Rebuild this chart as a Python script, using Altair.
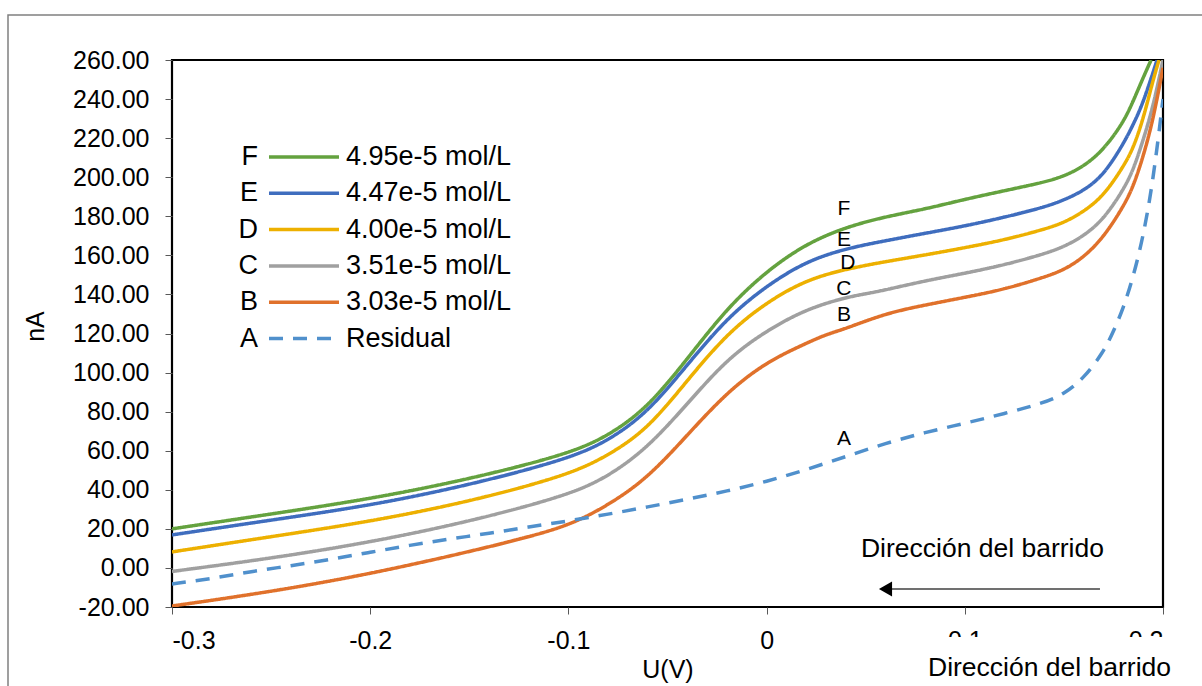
import altair as alt
import pandas as pd

FONT = "Liberation Sans"

# ---------------- data ----------------
SERIES = ["F", "E", "D", "C", "B", "A"]
LEGEND_LABELS = ["4.95e-5 mol/L", "4.47e-5 mol/L", "4.00e-5 mol/L",
                 "3.51e-5 mol/L", "3.03e-5 mol/L", "Residual"]
COLORS = ["#64A23F", "#3F6DBE", "#EDB000", "#A0A0A0", "#E0712B", "#5090CC"]
DASHES = [[1, 0], [1, 0], [1, 0], [1, 0], [1, 0], [14, 10]]

F_U = [-0.30, -0.25, -0.20, -0.15, -0.10, -0.08, -0.06, -0.04, -0.02, 0.00, 0.02, 0.04, 0.06,
       0.08, 0.10, 0.12, 0.14, 0.15, 0.16, 0.17, 0.18, 0.185, 0.19, 0.194]
F_I = [20.0, 27.6, 35.3, 45.4, 58.3, 67.5, 82.0, 107.0, 133.0, 152.0, 166.0, 174.5, 179.8,
       183.7, 188.7, 193.1, 197.4, 200.5, 205.5, 214.0, 228.0, 239.0, 251.0, 260.0]

E_U = [-0.30, -0.25, -0.20, -0.15, -0.10, -0.08, -0.06, -0.04, -0.02, 0.00, 0.02, 0.04, 0.06,
       0.08, 0.10, 0.12, 0.14, 0.15, 0.16, 0.17, 0.18, 0.185, 0.19, 0.197]
E_I = [16.9, 24.5, 31.9, 42.4, 55.8, 65.0, 79.5, 104.0, 128.0, 144.5, 157.0, 163.5, 167.5,
       171.3, 175.0, 179.5, 184.6, 188.3, 193.1, 201.0, 217.0, 227.0, 238.0, 260.0]

D_U = [-0.30, -0.25, -0.20, -0.15, -0.10, -0.08, -0.06, -0.04, -0.02, 0.00, 0.02, 0.04, 0.06,
       0.08, 0.10, 0.12, 0.14, 0.15, 0.16, 0.17, 0.18, 0.185, 0.19, 0.195, 0.198]
D_I = [8.2, 16.0, 23.7, 33.9, 47.5, 57.5, 71.0, 96.0, 120.0, 136.0, 147.5, 153.0, 156.8,
       160.2, 163.9, 167.9, 173.3, 176.7, 182.4, 190.4, 205.4, 214.8, 229.7, 249.8, 260.0]

C_U = [-0.30, -0.25, -0.20, -0.15, -0.10, -0.08, -0.06, -0.04, -0.02, 0.00, 0.02, 0.04, 0.05,
       0.06, 0.08, 0.10, 0.12, 0.14, 0.15, 0.16, 0.17, 0.18, 0.185, 0.19, 0.195, 0.20]
C_I = [-1.8, 4.9, 13.1, 23.7, 37.2, 46.7, 61.5, 84.0, 107.0, 121.5, 132.5, 138.5, 140.3,
       142.3, 147.0, 150.8, 155.1, 160.7, 164.4, 169.9, 178.4, 193.5, 203.7, 219.0, 236.0, 260.0]

B_U = [-0.30, -0.25, -0.20, -0.15, -0.125, -0.10, -0.08, -0.06, -0.04, -0.02, 0.00, 0.02, 0.03,
       0.04, 0.06, 0.08, 0.10, 0.12, 0.14, 0.15, 0.16, 0.17, 0.18, 0.185, 0.19, 0.195, 0.20]
B_I = [-19.5, -12.2, -3.1, 8.3, 14.6, 21.5, 32.0, 46.0, 68.0, 90.0, 105.5, 115.0, 119.5,
       122.5, 130.3, 134.6, 138.5, 142.6, 148.8, 152.5, 159.0, 169.2, 184.9, 195.2, 210.5,
       229.3, 256.0]

A_U = [-0.30, -0.28, -0.26, -0.24, -0.22, -0.20, -0.18, -0.16, -0.14, -0.12, -0.10, -0.08,
       -0.06, -0.04, -0.02, 0.00, 0.02, 0.04, 0.06, 0.08, 0.10, 0.12, 0.14, 0.15, 0.16, 0.17,
       0.175, 0.18, 0.185, 0.19, 0.195, 0.20]
A_I = [-8.2, -5.5, -1.8, 1.1, 4.4, 8.0, 11.6, 14.8, 17.7, 21.0, 24.0, 27.5, 31.2, 35.2,
       39.3, 44.2, 50.3, 57.0, 63.8, 69.4, 74.0, 79.0, 84.5, 89.0, 97.0, 110.5, 121.0, 133.0,
       149.0, 169.5, 198.0, 240.0]

CURVE_LABEL_U = [0.039, 0.039, 0.041, 0.039, 0.039, 0.039]
CURVE_LABEL_I = [183.7, 167.9, 156.1, 142.8, 129.5, 66.0]

X_TICKS = [-0.3, -0.2, -0.1, 0, 0.1, 0.2]
Y_TICKS = list(range(-20, 261, 20))
ANNOT_TEXT = "Dirección del barrido"
ARROW_U = [0.1682, 0.0600]
ARROW_I = -10.8

# ---------------- layout ----------------
W, H = 991, 547
PAD_L, PAD_T = 172, 60
FS = 25
FS_LEG = 27
FS_NOTE = 26.5

rows = []
for name, us, vals in zip(SERIES, [F_U, E_U, D_U, C_U, B_U, A_U],
                          [F_I, E_I, D_I, C_I, B_I, A_I]):
    for u, v in zip(us, vals):
        rows.append({"series": name, "U": u, "nA": v})
df = pd.DataFrame(rows)

xscale = alt.Scale(domain=[-0.3, 0.2], nice=False, zero=False)
yscale = alt.Scale(domain=[-20, 260], nice=False, zero=False)
color = alt.Color("series:N", scale=alt.Scale(domain=SERIES, range=COLORS), legend=None)
dash = alt.StrokeDash("series:N", scale=alt.Scale(domain=SERIES, range=DASHES), legend=None)

x_expr = ("datum.value == 0 ? '0' : (datum.value < 0 ? '-' + format(-datum.value, '.1f')"
          " : format(datum.value, '.1f'))")
y_expr = ("datum.value < 0 ? '-' + format(-datum.value, '.2f')"
          " : format(datum.value, '.2f')")

x_axis = alt.Axis(values=X_TICKS, labelExpr=x_expr, labelOverlap=False,
                  tickSize=7, tickColor="#595959", domain=False, grid=False,
                  labelFontSize=FS, labelColor="black", labelPadding=14,
                  title="U(V)", titleFontSize=FS, titleFontWeight="normal", titleColor="black",
                  titleX=W / 2, titleY=70, titleAlign="center", titleBaseline="alphabetic")
y_axis = alt.Axis(values=Y_TICKS, labelExpr=y_expr, labelOverlap=False, tickSize=7,
                  tickColor="#595959", domain=False,
                  grid=False, labelFontSize=FS, labelColor="black", labelPadding=16,
                  title="nA", titleFontSize=FS, titleFontWeight="normal", titleColor="black",
                  titleAngle=270, titleX=-137, titleY=266, titleAlign="center",
                  titleBaseline="middle")

X = alt.X("U:Q", scale=xscale, axis=x_axis)
Y = alt.Y("nA:Q", scale=yscale, axis=y_axis)

# outer frame (chart area border)
frame = alt.Chart(pd.DataFrame({"k": [0]})).mark_rect(
    fillOpacity=0, stroke="#808080", strokeWidth=1.5
).encode(x=alt.value(8 - PAD_L), x2=alt.value(1230 - PAD_L),
         y=alt.value(15 - PAD_T), y2=alt.value(720 - PAD_T))

lines = alt.Chart(df).mark_line(strokeWidth=3.5, interpolate="basis", clip=True).encode(
    x=X, y=Y, color=color, strokeDash=dash,
)

lab_df = pd.DataFrame({"series": SERIES, "U": CURVE_LABEL_U, "nA": CURVE_LABEL_I})
curve_labels = alt.Chart(lab_df).mark_text(fontSize=21, color="black", baseline="middle",
                                           align="center").encode(x=X, y=Y, text="series:N")

# arrow + annotation inside plot
arrow_df = pd.DataFrame({"U": [ARROW_U[0]], "U2": [ARROW_U[1]], "nA": [ARROW_I]})
arrow_line = alt.Chart(arrow_df).mark_rule(color="#404040", strokeWidth=1.6).encode(
    x=X, x2="U2:Q", y=Y)
head_df = pd.DataFrame({"U": [ARROW_U[1]], "nA": [ARROW_I]})
arrow_head = alt.Chart(head_df).mark_point(shape="triangle-left", filled=True, size=230,
                                           color="black", opacity=1).encode(x=X, y=Y)
annot_df = pd.DataFrame({"U": [0.0476], "nA": [5.6], "t": [ANNOT_TEXT]})
annot = alt.Chart(annot_df).mark_text(fontSize=FS_NOTE, align="left", baseline="alphabetic",
                                      color="black").encode(x=X, y=Y, text="t:N")

# white box under the plot (covers the lower part of 0.1 / 0.2 labels) with its text
box = alt.Chart(pd.DataFrame({"k": [0]})).mark_rect(color="white", opacity=1).encode(
    x=alt.value(900 - PAD_L), x2=alt.value(1215 - PAD_L),
    y=alt.value(637 - PAD_T), y2=alt.value(700 - PAD_T))
box_text = alt.Chart(pd.DataFrame({"t": [ANNOT_TEXT]})).mark_text(
    fontSize=FS_NOTE, align="left", baseline="alphabetic", color="black").encode(
    x=alt.value(928 - PAD_L), y=alt.value(676 - PAD_T), text="t:N")

# custom legend (letter, line sample, label)
LEG_TOP, LEG_GAP = 157 - PAD_T, 36.3
leg = pd.DataFrame({"series": SERIES, "label": LEGEND_LABELS})
leg["ypix"] = [LEG_TOP + i * LEG_GAP for i in range(len(SERIES))]
ly = alt.Y("ypix:Q", scale=None, axis=None)
leg_letter = alt.Chart(leg).mark_text(fontSize=FS_LEG, align="right", baseline="middle",
                                      color="black").encode(
    x=alt.value(258 - PAD_L), y=ly, text="series:N")
leg_line = alt.Chart(leg).mark_rule(strokeWidth=3.5).encode(
    x=alt.value(269 - PAD_L), x2=alt.value(339 - PAD_L), y=ly, color=color, strokeDash=dash)
leg_label = alt.Chart(leg).mark_text(fontSize=FS_LEG, align="left", baseline="middle",
                                     color="black").encode(
    x=alt.value(346 - PAD_L), y=ly, text="label:N")

chart = alt.layer(
    frame, lines, curve_labels, arrow_line, arrow_head, annot, box, box_text,
    leg_letter, leg_line, leg_label
).properties(
    width=W, height=H,
    padding={"left": PAD_L, "top": PAD_T, "right": 1202 - PAD_L - W, "bottom": 686 - PAD_T - H},
    autosize=alt.AutoSizeParams(type="none"),
    background="white",
).configure(font=FONT).configure_view(stroke="black", strokeWidth=2.2)

chart.save("out.html", embed_options={"renderer": "svg", "actions": False})
